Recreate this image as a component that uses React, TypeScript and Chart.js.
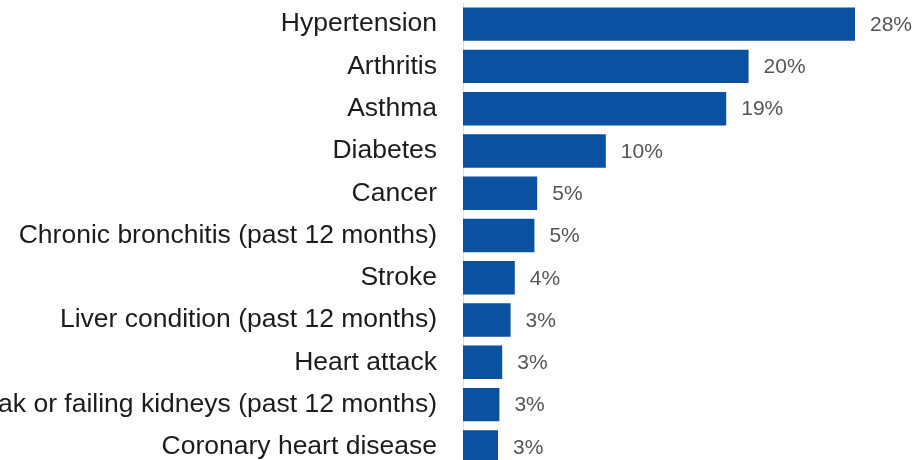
import React, { useEffect, useRef } from "react";
import { Chart, registerables } from "chart.js";

Chart.register(...registerables);

const categories: string[] = [
  "Hypertension",
  "Arthritis",
  "Asthma",
  "Diabetes",
  "Cancer",
  "Chronic bronchitis (past 12 months)",
  "Stroke",
  "Liver condition (past 12 months)",
  "Heart attack",
  "Weak or failing kidneys (past 12 months)",
  "Coronary heart disease",
];

const values: number[] = [28, 20.4, 18.8, 10.2, 5.3, 5.1, 3.7, 3.4, 2.8, 2.6, 2.5];

const xMin = 0;
const xMax = 30;

const FONT = "'Liberation Sans', Arial, sans-serif";

const valueLabels = {
  id: "valueLabels",
  afterDatasetsDraw(chart: any) {
    const ctx = chart.ctx;
    const meta = chart.getDatasetMeta(0);
    ctx.save();
    ctx.font = `21px ${FONT}`;
    ctx.fillStyle = "#555555";
    ctx.textAlign = "left";
    ctx.textBaseline = "middle";
    meta.data.forEach((bar: any, i: number) => {
      const v = chart.data.datasets[0].data[i] as number;
      ctx.fillText(`${Math.round(v)}%`, bar.x + 15, bar.y + 1);
    });
    ctx.restore();
  },
};

export default function App() {
  const ref = useRef<HTMLCanvasElement | null>(null);

  useEffect(() => {
    if (!ref.current) return;
    const chart = new Chart(ref.current, {
      type: "bar",
      data: {
        labels: categories,
        datasets: [
          {
            data: values,
            backgroundColor: "#0a51a0",
            borderWidth: 0,
            barPercentage: 0.79,
            categoryPercentage: 1,
          },
        ],
      },
      options: {
        indexAxis: "y",
        responsive: false,
        maintainAspectRatio: false,
        animation: false,
        layout: { padding: { top: 3, bottom: 2, left: 0, right: 32 } },
        plugins: {
          legend: { display: false },
          tooltip: { enabled: false },
          title: { display: false },
        },
        scales: {
          x: { display: false, min: xMin, max: xMax },
          y: {
            afterFit(scale: any) {
              scale.width = 523;
              scale.paddingTop = 0;
              scale.paddingBottom = 0;
            },
            grid: { display: false, drawTicks: false },
            border: { display: true, color: "#d9dee6", width: 1 },
            ticks: {
              padding: 26,
              color: "#1c1c1c",
              font: { family: FONT, size: 26.5 },
            },
          },
        },
      },
      plugins: [valueLabels],
    });
    return () => chart.destroy();
  }, []);

  return (
    <div
      style={{
        position: "fixed",
        left: 0,
        top: 0,
        width: 915,
        height: 460,
        overflow: "hidden",
        background: "#ffffff",
      }}
    >
      <canvas
        ref={ref}
        width={975}
        height={470}
        style={{ position: "absolute", left: -60, top: 0, width: 975, height: 470 }}
      />
    </div>
  );
}
